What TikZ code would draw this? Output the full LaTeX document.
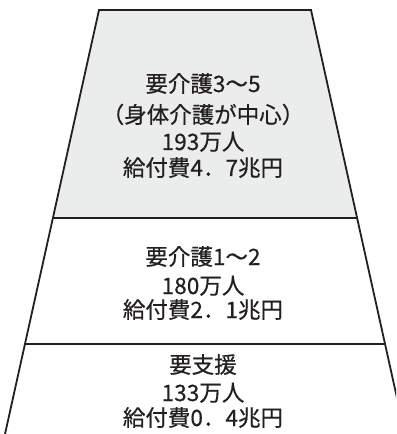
\documentclass[tikz,border=0pt]{standalone}
\usepackage{fontspec}
\newfontfamily\jp{Noto Sans CJK JP}[FakeBold=0.5]
\makeatletter
\def\dg#1{\dg@loop#1\relax}
\def\dg@loop#1{\ifx#1\relax\else\makebox[0.56em]{#1}\expandafter\dg@loop\fi}
\makeatother
\definecolor{linec}{HTML}{231F20}
\definecolor{topfill}{HTML}{EBECEC}
\begin{document}
\begin{tikzpicture}[x=1bp,y=-1bp,
  edge/.style={line width=1.8bp, draw=linec, line join=miter},
  divider/.style={line width=1.6bp, draw=linec},
  lbl/.style={font=\jp\fontsize{22.5bp}{27bp}\selectfont, text=linec, inner sep=0pt, anchor=base}]
\useasboundingbox (0,0) rectangle (396,434);
\clip (0,0) rectangle (396,434);
\coordinate (tl) at (99,10);
\coordinate (tr) at (311,10);
\coordinate (ml) at (52.9,218);
\coordinate (mr) at (357.1,218);
\coordinate (bl) at (25,344);
\coordinate (br) at (385,344);
\coordinate (el) at (2.8,444);
\coordinate (er) at (407.2,444);
\fill[topfill] (tl) -- (tr) -- (mr) -- (ml) -- cycle;
\draw[divider] (ml) -- (mr);
\draw[divider] (bl) -- (br);
\draw[edge] (el) -- (tl) -- (tr) -- (er);
% top section
\node[lbl] (t1) at (203,92) {要介護\dg{3}～\dg{5}};
\node[lbl] (t2) at (203,123) {（身体介護が中心）};
\node[lbl] (t3) at (203,150) {\dg{193}万人};
\node[lbl] (t4) at (203,176) {給付費\dg{4}．\dg{7}兆円};
% middle section
\node[lbl] (m1) at (203,265) {要介護\dg{1}～\dg{2}};
\node[lbl] (m2) at (203,294) {\dg{180}万人};
\node[lbl] (m3) at (203,318) {給付費\dg{2}．\dg{1}兆円};
% bottom section
\node[lbl] (b1) at (203,373) {要支援};
\node[lbl] (b2) at (203,401) {\dg{133}万人};
\node[lbl] (b3) at (203,426) {給付費\dg{0}．\dg{4}兆円};
\end{tikzpicture}
\end{document}
